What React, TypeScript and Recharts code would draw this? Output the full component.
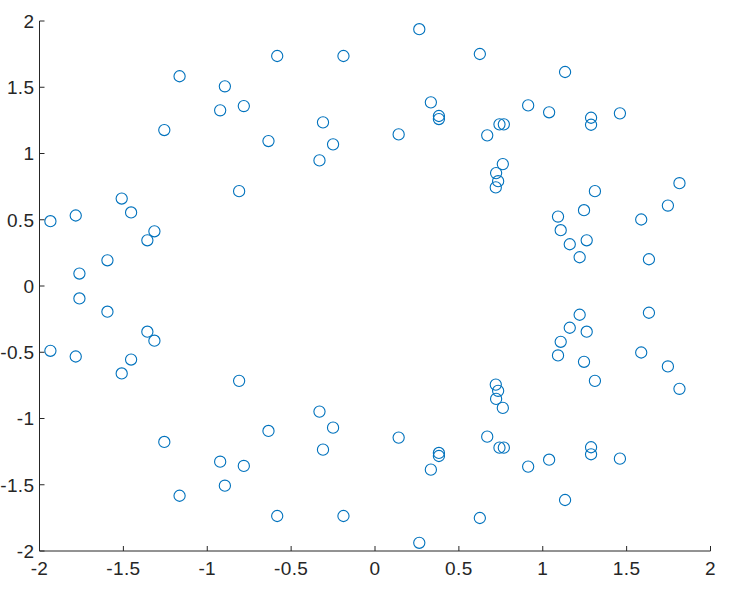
import { Scatter, ScatterChart, XAxis, YAxis } from "recharts";

// upper half of the ring (y > 0)
const upperX = [
  -1.935, -1.784, -1.762, -1.595, -1.51, -1.454, -1.357, -1.315, -1.256, -1.165,
  -0.923, -0.895, -0.782, -0.81, -0.635, -0.583, -0.331, -0.31, -0.25, -0.188,
  0.264, 0.625, 0.333, 0.381, 0.381, 0.141, 0.669, 0.742, 0.768, 0.913,
  1.038, 1.133, 1.288, 1.288, 1.46, 0.762, 0.722, 0.734, 0.72, 1.815,
  1.311, 1.746, 1.246, 1.091, 1.587, 1.107, 1.262, 1.161, 1.22, 1.633,
];
const upperY = [
  0.489, 0.532, 0.094, 0.194, 0.66, 0.555, 0.345, 0.413, 1.177, 1.583,
  1.326, 1.507, 1.358, 0.716, 1.094, 1.736, 0.948, 1.235, 1.069, 1.736,
  1.938, 1.751, 1.386, 1.283, 1.26, 1.144, 1.137, 1.22, 1.22, 1.363,
  1.311, 1.615, 1.27, 1.217, 1.303, 0.92, 0.852, 0.791, 0.744, 0.776,
  0.716, 0.607, 0.572, 0.524, 0.502, 0.421, 0.345, 0.315, 0.217, 0.202,
];

// lower half of the ring (y < 0)
const lowerX = [
  -1.935, -1.784, -1.762, -1.595, -1.51, -1.454, -1.357, -1.315, -1.256, -1.165,
  -0.923, -0.895, -0.782, -0.81, -0.635, -0.583, -0.331, -0.31, -0.25, -0.188,
  0.264, 0.625, 0.333, 0.381, 0.381, 0.141, 0.669, 0.742, 0.768, 0.913,
  1.038, 1.133, 1.288, 1.288, 1.46, 0.762, 0.722, 0.734, 0.72, 1.815,
  1.311, 1.746, 1.246, 1.091, 1.587, 1.107, 1.262, 1.161, 1.22, 1.633,
];
const lowerY = [
  -0.489, -0.532, -0.094, -0.194, -0.66, -0.555, -0.345, -0.413, -1.177, -1.583,
  -1.326, -1.507, -1.358, -0.716, -1.094, -1.736, -0.948, -1.235, -1.069, -1.736,
  -1.938, -1.751, -1.386, -1.283, -1.26, -1.144, -1.137, -1.22, -1.22, -1.363,
  -1.311, -1.615, -1.27, -1.217, -1.303, -0.92, -0.852, -0.791, -0.744, -0.776,
  -0.716, -0.607, -0.572, -0.524, -0.502, -0.421, -0.345, -0.315, -0.217, -0.202,
];

const xTicks = [-2, -1.5, -1, -0.5, 0, 0.5, 1, 1.5, 2];
const yTicks = [-2, -1.5, -1, -0.5, 0, 0.5, 1, 1.5, 2];

const points = [
  ...upperX.map((x, i) => ({ x, y: upperY[i] })),
  ...lowerX.map((x, i) => ({ x, y: lowerY[i] })),
];

const INK = "#262626";
const FONT = "'Liberation Sans', Arial, Helvetica, sans-serif";
const TICK = 5;

function BottomTick({ x, y, payload }: any) {
  return (
    <g>
      <line x1={x} y1={y} x2={x} y2={y - TICK} stroke={INK} strokeWidth={1} />
      <text x={x} y={y + 24} textAnchor="middle" fill={INK} fontSize={19} fontFamily={FONT} letterSpacing={0.4}>
        {payload.value}
      </text>
    </g>
  );
}

function LeftTick({ x, y, payload }: any) {
  return (
    <g>
      <line x1={x} y1={y} x2={x + TICK} y2={y} stroke={INK} strokeWidth={1} />
      <text x={x - 5} y={y + 6.8} textAnchor="end" fill={INK} fontSize={19} fontFamily={FONT} letterSpacing={0.4}>
        {payload.value}
      </text>
    </g>
  );
}

function TopTick({ x, y }: any) {
  return <line x1={x} y1={y} x2={x} y2={y + TICK} stroke={INK} strokeWidth={1} />;
}

function RightTick({ x, y }: any) {
  return <line x1={x} y1={y} x2={x - TICK} y2={y} stroke={INK} strokeWidth={1} />;
}

function RingMarker({ cx, cy }: any) {
  return <circle cx={cx} cy={cy} r={5.6} fill="none" stroke="#0072BD" strokeWidth={1.1} />;
}

export default function App() {
  return (
    <div style={{ position: "absolute", left: 0, top: 0, width: 732, height: 594, background: "#fff" }}>
      <ScatterChart width={732} height={594} margin={{ top: 21, right: 21.5, bottom: 0, left: 0 }}>
        <XAxis
          xAxisId="b"
          type="number"
          dataKey="x"
          domain={[-2, 2]}
          ticks={xTicks}
          interval={0}
          height={43}
          tickSize={0}
          tickMargin={0}
          tick={<BottomTick />}
          axisLine={{ stroke: INK }}
          tickLine={false}
        />
        <XAxis
          xAxisId="t"
          orientation="top"
          type="number"
          dataKey="x"
          domain={[-2, 2]}
          ticks={xTicks}
          interval={0}
          height={0}
          tickSize={0}
          tickMargin={0}
          tick={<TopTick />}
          axisLine={{ stroke: INK }}
          tickLine={false}
        />
        <YAxis
          yAxisId="l"
          type="number"
          dataKey="y"
          domain={[-2, 2]}
          ticks={yTicks}
          interval={0}
          width={39.5}
          tickSize={0}
          tickMargin={0}
          tick={<LeftTick />}
          axisLine={{ stroke: INK }}
          tickLine={false}
        />
        <YAxis
          yAxisId="r"
          orientation="right"
          type="number"
          dataKey="y"
          domain={[-2, 2]}
          ticks={yTicks}
          interval={0}
          width={0}
          tickSize={0}
          tickMargin={0}
          tick={<RightTick />}
          axisLine={{ stroke: INK }}
          tickLine={false}
        />
        <Scatter xAxisId="b" yAxisId="l" data={points} shape={<RingMarker />} isAnimationActive={false} />
        <Scatter xAxisId="t" yAxisId="r" data={[]} isAnimationActive={false} />
      </ScatterChart>
    </div>
  );
}
